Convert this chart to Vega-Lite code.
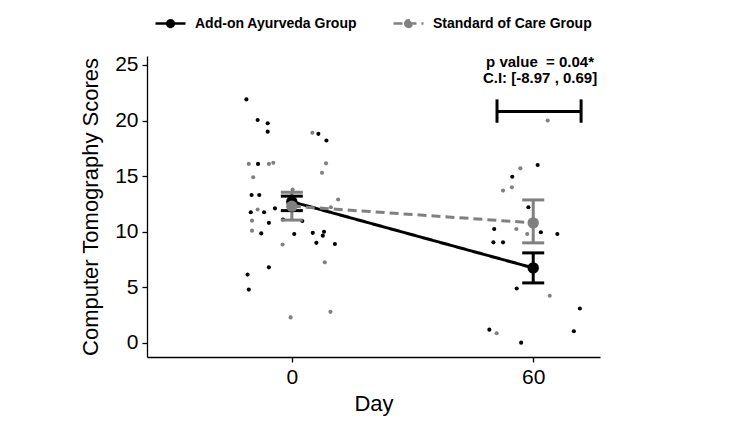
{
  "$schema": "https://vega.github.io/schema/vega-lite/v6.json",
  "width": 453,
  "height": 301,
  "autosize": {"type": "none"},
  "padding": {"left": 147, "top": 56, "right": 150, "bottom": 65},
  "background": "white",
  "config": {
    "font": "Liberation Sans",
    "view": {"stroke": null},
    "axis": {
      "grid": false,
      "domainColor": "black",
      "domainWidth": 1.3,
      "tickColor": "black",
      "tickWidth": 1.3,
      "tickSize": 5,
      "labelColor": "black",
      "labelFontSize": 21,
      "labelFont": "Liberation Sans",
      "titleFont": "Liberation Sans",
      "titleFontSize": 22,
      "titleFontWeight": "normal",
      "titleColor": "black"
    }
  },
  "datasets": {
    "pts": [
      {"d": -11.3, "s": 21.9, "g": "Add-on Ayurveda Group"},
      {"d": -8.5, "s": 20.05, "g": "Add-on Ayurveda Group"},
      {"d": -6.0, "s": 19.75, "g": "Add-on Ayurveda Group"},
      {"d": -6.0, "s": 19.0, "g": "Add-on Ayurveda Group"},
      {"d": 6.6, "s": 18.8, "g": "Add-on Ayurveda Group"},
      {"d": 8.6, "s": 18.2, "g": "Add-on Ayurveda Group"},
      {"d": -8.4, "s": 16.1, "g": "Add-on Ayurveda Group"},
      {"d": -10.0, "s": 13.3, "g": "Add-on Ayurveda Group"},
      {"d": -8.1, "s": 13.3, "g": "Add-on Ayurveda Group"},
      {"d": -10.2, "s": 11.75, "g": "Add-on Ayurveda Group"},
      {"d": -6.9, "s": 11.75, "g": "Add-on Ayurveda Group"},
      {"d": -4.2, "s": 12.1, "g": "Add-on Ayurveda Group"},
      {"d": -5.7, "s": 10.8, "g": "Add-on Ayurveda Group"},
      {"d": -7.6, "s": 9.85, "g": "Add-on Ayurveda Group"},
      {"d": -2.2, "s": 11.1, "g": "Add-on Ayurveda Group"},
      {"d": 2.6, "s": 10.97, "g": "Add-on Ayurveda Group"},
      {"d": 0.6, "s": 9.8, "g": "Add-on Ayurveda Group"},
      {"d": 5.2, "s": 9.9, "g": "Add-on Ayurveda Group"},
      {"d": 8.0, "s": 10.0, "g": "Add-on Ayurveda Group"},
      {"d": 7.7, "s": 9.65, "g": "Add-on Ayurveda Group"},
      {"d": 6.1, "s": 9.0, "g": "Add-on Ayurveda Group"},
      {"d": 10.7, "s": 8.9, "g": "Add-on Ayurveda Group"},
      {"d": -5.7, "s": 6.8, "g": "Add-on Ayurveda Group"},
      {"d": -11.0, "s": 6.15, "g": "Add-on Ayurveda Group"},
      {"d": -10.7, "s": 4.8, "g": "Add-on Ayurveda Group"},
      {"d": 61.1, "s": 16.0, "g": "Add-on Ayurveda Group"},
      {"d": 54.8, "s": 14.95, "g": "Add-on Ayurveda Group"},
      {"d": 58.8, "s": 12.2, "g": "Add-on Ayurveda Group"},
      {"d": 50.3, "s": 10.25, "g": "Add-on Ayurveda Group"},
      {"d": 61.9, "s": 9.95, "g": "Add-on Ayurveda Group"},
      {"d": 66.0, "s": 9.8, "g": "Add-on Ayurveda Group"},
      {"d": 50.1, "s": 9.05, "g": "Add-on Ayurveda Group"},
      {"d": 52.5, "s": 9.05, "g": "Add-on Ayurveda Group"},
      {"d": 55.9, "s": 4.9, "g": "Add-on Ayurveda Group"},
      {"d": 71.6, "s": 3.1, "g": "Add-on Ayurveda Group"},
      {"d": 49.1, "s": 1.2, "g": "Add-on Ayurveda Group"},
      {"d": 70.1, "s": 1.05, "g": "Add-on Ayurveda Group"},
      {"d": 57.0, "s": 0.03, "g": "Add-on Ayurveda Group"},
      {"d": -10.7, "s": 16.1, "g": "Standard of Care Group"},
      {"d": -5.7, "s": 16.1, "g": "Standard of Care Group"},
      {"d": -4.6, "s": 16.2, "g": "Standard of Care Group"},
      {"d": -9.6, "s": 14.9, "g": "Standard of Care Group"},
      {"d": -8.5, "s": 12.0, "g": "Standard of Care Group"},
      {"d": -9.9, "s": 11.0, "g": "Standard of Care Group"},
      {"d": -9.9, "s": 10.1, "g": "Standard of Care Group"},
      {"d": -2.3, "s": 8.85, "g": "Standard of Care Group"},
      {"d": -0.3, "s": 2.3, "g": "Standard of Care Group"},
      {"d": 5.1, "s": 18.9, "g": "Standard of Care Group"},
      {"d": 8.5, "s": 16.15, "g": "Standard of Care Group"},
      {"d": 7.5, "s": 15.3, "g": "Standard of Care Group"},
      {"d": 0.2, "s": 13.8, "g": "Standard of Care Group"},
      {"d": 11.5, "s": 12.9, "g": "Standard of Care Group"},
      {"d": 9.7, "s": 12.2, "g": "Standard of Care Group"},
      {"d": 8.2, "s": 7.25, "g": "Standard of Care Group"},
      {"d": 9.6, "s": 2.8, "g": "Standard of Care Group"},
      {"d": 63.6, "s": 20.0, "g": "Standard of Care Group"},
      {"d": 56.8, "s": 15.7, "g": "Standard of Care Group"},
      {"d": 54.7, "s": 14.0, "g": "Standard of Care Group"},
      {"d": 52.5, "s": 13.7, "g": "Standard of Care Group"},
      {"d": 55.8, "s": 10.25, "g": "Standard of Care Group"},
      {"d": 58.5, "s": 9.8, "g": "Standard of Care Group"},
      {"d": 64.1, "s": 4.25, "g": "Standard of Care Group"},
      {"d": 50.9, "s": 0.87, "g": "Standard of Care Group"}
    ],
    "means": [
      {"day": 0, "m": 12.7, "lo": 11.9, "hi": 13.2, "g": "Add-on Ayurveda Group"},
      {"day": 60, "m": 6.75, "lo": 5.4, "hi": 8.1, "g": "Add-on Ayurveda Group"},
      {"day": 0, "m": 12.3, "lo": 11.05, "hi": 13.55, "g": "Standard of Care Group"},
      {"day": 60, "m": 10.8, "lo": 9.0, "hi": 12.86, "g": "Standard of Care Group"}
    ],
    "bracket": [
      {"x": 51.0, "y": 20.8, "lo": 19.8, "hi": 21.9},
      {"x": 71.9, "y": 20.8, "lo": 19.8, "hi": 21.9}
    ],
    "labels": [
      {"x": 61.7, "y": 25.3, "t": "p value \u00a0= 0.04*"},
      {"x": 61.7, "y": 23.85, "t": "C.I: [-8.97 , 0.69]"}
    ]
  },
  "layer": [
    {
      "data": {"name": "pts"},
      "mark": {"type": "circle", "size": 17, "opacity": 1},
      "encoding": {
        "x": {"field": "d", "type": "quantitative", "scale": {"domain": [-36, 76.6], "nice": false, "zero": false},
              "axis": {"values": [0, 60], "title": "Day", "titlePadding": 6, "labelPadding": 4}},
        "y": {"field": "s", "type": "quantitative", "scale": {"domain": [-1.26, 25.8], "nice": false, "zero": false},
              "axis": {"values": [0, 5, 10, 15, 20, 25], "title": "Computer Tomography Scores", "titlePadding": 12, "labelPadding": 4}},
        "color": {"field": "g", "type": "nominal", "scale": {"domain": ["Add-on Ayurveda Group", "Standard of Care Group"], "range": ["#000000", "#808080"]},
          "legend": {
            "title": null, "orient": "none", "direction": "horizontal",
            "legendX": 7, "legendY": -49,
            "symbolType": "M-1,0L1,0M-0.22,0A0.22,0.22,0,1,0,0.22,0A0.22,0.22,0,1,0,-0.22,0",
            "symbolSize": 900, "symbolStrokeWidth": 2.5,
            "labelFontSize": 14, "labelFontWeight": "bold", "labelColor": "black",
            "labelFont": "Liberation Sans", "labelOffset": 8, "columnPadding": 30, "labelLimit": 300,
            "encode": {"symbols": {"update": {"fill": {"scale": "color", "field": "value"}, "stroke": {"scale": "color", "field": "value"}}}}
          }}
      }
    },
    {
      "data": {"name": "means"},
      "mark": {"type": "line", "strokeWidth": 3},
      "encoding": {
        "x": {"field": "day", "type": "quantitative"},
        "y": {"field": "m", "type": "quantitative"},
        "color": {"field": "g", "type": "nominal"},
        "strokeDash": {"field": "g", "type": "nominal", "scale": {"domain": ["Add-on Ayurveda Group", "Standard of Care Group"], "range": [[1, 0], [9, 5]]},
          "legend": {
            "title": null, "orient": "none", "direction": "horizontal",
            "legendX": 7, "legendY": -49,
            "symbolType": "M-1,0L1,0M-0.22,0A0.22,0.22,0,1,0,0.22,0A0.22,0.22,0,1,0,-0.22,0",
            "symbolSize": 900, "symbolStrokeWidth": 2.5,
            "labelFontSize": 14, "labelFontWeight": "bold", "labelColor": "black",
            "labelFont": "Liberation Sans", "labelOffset": 8, "columnPadding": 30, "labelLimit": 300
          }}
      }
    },
    {
      "data": {"name": "means"},
      "mark": {"type": "rule", "strokeWidth": 3},
      "encoding": {
        "x": {"field": "day", "type": "quantitative"},
        "y": {"field": "lo", "type": "quantitative"},
        "y2": {"field": "hi"},
        "color": {"field": "g", "type": "nominal"}
      }
    },
    {
      "data": {"name": "means"},
      "mark": {"type": "tick", "orient": "horizontal", "size": 22, "thickness": 3, "opacity": 1},
      "encoding": {
        "x": {"field": "day", "type": "quantitative"},
        "y": {"field": "lo", "type": "quantitative"},
        "color": {"field": "g", "type": "nominal"}
      }
    },
    {
      "data": {"name": "means"},
      "mark": {"type": "tick", "orient": "horizontal", "size": 22, "thickness": 3, "opacity": 1},
      "encoding": {
        "x": {"field": "day", "type": "quantitative"},
        "y": {"field": "hi", "type": "quantitative"},
        "color": {"field": "g", "type": "nominal"}
      }
    },
    {
      "data": {"name": "means"},
      "mark": {"type": "circle", "size": 130, "opacity": 1},
      "encoding": {
        "x": {"field": "day", "type": "quantitative"},
        "y": {"field": "m", "type": "quantitative"},
        "color": {"field": "g", "type": "nominal"}
      }
    },
    {
      "data": {"name": "bracket"},
      "mark": {"type": "rule", "strokeWidth": 3, "color": "black"},
      "encoding": {
        "x": {"field": "x", "type": "quantitative"},
        "y": {"field": "lo", "type": "quantitative"},
        "y2": {"field": "hi"}
      }
    },
    {
      "data": {"name": "bracket"},
      "mark": {"type": "rule", "strokeWidth": 3, "color": "black"},
      "encoding": {
        "x": {"aggregate": "min", "field": "x", "type": "quantitative"},
        "x2": {"aggregate": "max", "field": "x"},
        "y": {"aggregate": "mean", "field": "y", "type": "quantitative"}
      }
    },
    {
      "data": {"name": "labels"},
      "mark": {"type": "text", "fontSize": 15, "fontWeight": "bold", "color": "black", "baseline": "middle", "align": "center"},
      "encoding": {
        "x": {"field": "x", "type": "quantitative"},
        "y": {"field": "y", "type": "quantitative"},
        "text": {"field": "t"}
      }
    }
  ]
}
